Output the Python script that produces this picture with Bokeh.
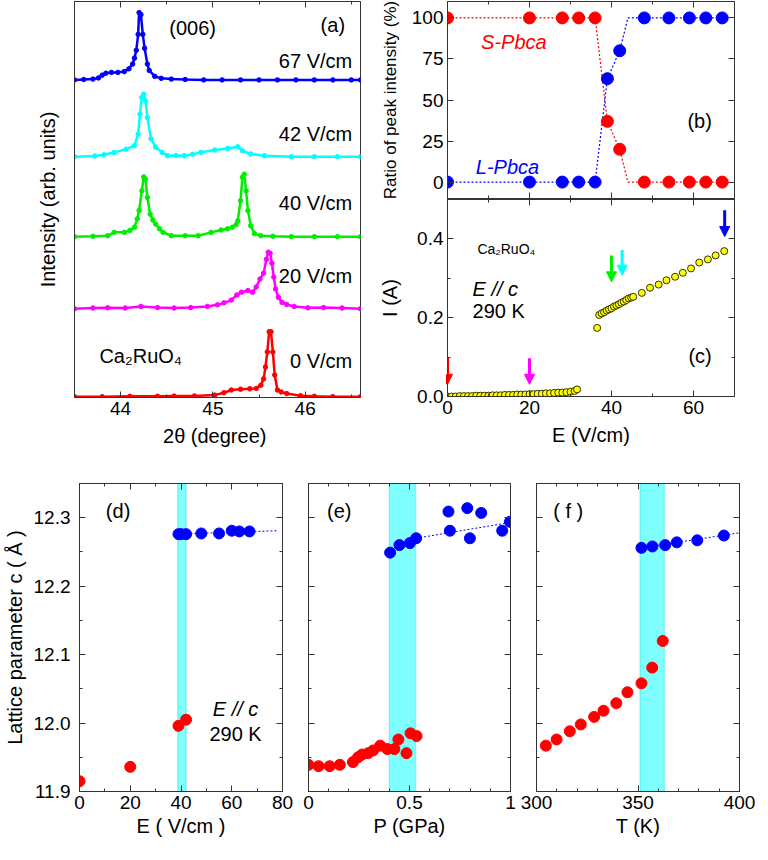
import numpy as np
from bokeh.plotting import figure
from bokeh.models import (Range1d, LinearAxis, FixedTicker, Label, BoxAnnotation, Arrow, NormalHead,
                          PrintfTickFormatter)
from bokeh.layouts import row, column
from bokeh.embed import file_html
from bokeh.resources import INLINE

# ---------------- data ----------------
# (a) (006) XRD profiles: 2theta (deg) and intensity above each baseline (arb. units)
fields_a = ["0 V/cm", "20 V/cm", "40 V/cm", "42 V/cm", "67 V/cm"]
offsets_a = [0.2, 22.4, 40.6, 60.8, 80.2]

tt_0 = [43.50, 43.80, 44.10, 44.40, 44.58, 44.80, 45.02, 45.12, 45.20, 45.30, 45.40, 45.47, 45.52, 45.55,
        45.57, 45.59, 45.61, 45.63, 45.65, 45.67, 45.70, 45.74, 45.80, 45.95, 46.10, 46.30, 46.60]
int_0 = [0.0, 0.0, 0.1, 0.1, 0.15, 0.2, 0.4, 1.0, 1.7, 1.9, 2.0, 2.1, 2.9, 4.5,
         7.5, 11.3, 16.4, 16.4, 11.3, 5.5, 1.7, 1.2, 0.8, 0.25, 0.1, 0.0, 0.0]

tt_20 = [43.50, 43.70, 43.86, 44.05, 44.22, 44.40, 44.58, 44.76, 44.94, 45.05, 45.12, 45.20, 45.26, 45.31,
         45.38, 45.43, 45.47, 45.51, 45.55, 45.58, 45.60, 45.62, 45.64, 45.66, 45.68, 45.71, 45.75, 45.80,
         45.88, 46.03, 46.20, 46.40, 46.60]
int_20 = [0.0, 0.2, 0.25, 0.2, 0.6, 0.3, 0.2, 0.3, 0.6, 1.0, 1.5, 2.2, 3.5, 4.2,
          4.6, 4.2, 5.5, 7.5, 9.0, 12.5, 14.3, 14.0, 11.5, 8.0, 5.0, 2.9, 1.6, 1.1,
          0.6, 0.25, 0.3, 0.2, 0.0]

tt_40 = [43.50, 43.70, 43.86, 43.93, 44.04, 44.10, 44.15, 44.18, 44.20, 44.23, 44.25, 44.27, 44.29, 44.32,
         44.35, 44.38, 44.42, 44.46, 44.55, 44.70, 44.84, 44.98, 45.09, 45.16, 45.21, 45.25, 45.27, 45.30,
         45.32, 45.34, 45.36, 45.38, 45.41, 45.45, 45.52, 45.65, 45.85, 46.10, 46.35, 46.60]
int_40 = [0.0, 0.1, 0.25, 1.1, 1.1, 1.6, 2.4, 4.5, 6.6, 11.6, 15.1, 14.5, 9.9, 5.7,
          4.2, 3.2, 2.0, 1.1, 0.25, 0.25, 0.25, 1.1, 1.7, 2.0, 2.4, 3.0, 4.0, 9.1,
          15.0, 15.8, 11.6, 6.6, 2.8, 0.8, 0.25, 0.1, 0.0, 0.0, 0.0, 0.0]

tt_42 = [43.50, 43.72, 43.82, 43.93, 44.06, 44.15, 44.19, 44.21, 44.23, 44.25, 44.27, 44.29, 44.33, 44.38,
         44.45, 44.51, 44.60, 44.69, 44.78, 44.87, 45.02, 45.16, 45.27, 45.32, 45.41, 45.56, 45.85, 46.10,
         46.35, 46.60]
int_42 = [0.0, 0.2, 0.5, 1.1, 1.9, 2.8, 5.7, 10.8, 15.0, 15.8, 14.1, 9.9, 4.5, 2.4,
          1.1, 0.25, 0.3, 0.25, 0.6, 1.1, 1.7, 2.1, 2.5, 1.5, 0.7, 0.25, 0.0, 0.0,
          0.0, 0.0]

tt_67 = [43.50, 43.60, 43.70, 43.76, 43.80, 43.84, 43.90, 43.97, 44.04, 44.09, 44.13, 44.15, 44.17, 44.19,
         44.20, 44.22, 44.24, 44.26, 44.29, 44.31, 44.37, 44.44, 44.55, 44.70, 44.90, 45.10, 45.30, 45.50,
         45.70, 45.90, 46.10, 46.30, 46.50, 46.60]
int_67 = [0.0, 0.1, 0.2, 0.5, 1.2, 1.7, 1.9, 1.9, 2.1, 2.8, 4.0, 5.5, 7.5, 11.5,
          17.0, 16.5, 11.5, 8.0, 4.0, 2.4, 0.9, 0.4, 0.2, 0.1, 0.0, 0.0, 0.0, 0.0,
          0.0, 0.0, 0.0, 0.0, 0.0, 0.0]

# (b) ratio of peak intensity (%)
E_b = [0, 20, 28, 32, 36, 39, 42, 48, 54, 59, 63, 67]
S_b = [100, 100, 100, 100, 100, 37, 20, 0, 0, 0, 0, 0]
L_b = [0, 0, 0, 0, 0, 63, 80, 100, 100, 100, 100, 100]
E_b_line = [0, 20, 28, 32, 36, 39, 42, 44, 48, 54, 59, 63, 67]
S_b_line = [100, 100, 100, 100, 100, 37, 20, 0, 0, 0, 0, 0, 0]
L_b_line = [0, 0, 0, 0, 0, 63, 80, 100, 100, 100, 100, 100, 100]

# (c) I-E curve
E_c = [0, 1, 2, 3, 4, 5, 6, 7, 8, 9, 10, 11, 12, 13, 14, 15, 16, 17, 18, 19, 20, 21, 22, 23, 24, 25,
       26, 27, 28, 29, 30, 31, 31.6,
       36.5, 37.0, 37.6, 38.2, 38.8, 39.4, 40.0, 40.6, 41.2, 41.8, 42.4, 43.0, 43.6, 44.2, 44.8, 45.3,
       47.4, 49.4, 51.5, 53.4, 55.5, 57.4, 59.4, 61.4, 63.5, 65.4, 67.5]
I_c = [0.000, 0.000, 0.000, 0.001, 0.001, 0.001, 0.001, 0.002, 0.002, 0.002, 0.002, 0.003, 0.003,
       0.003, 0.004, 0.004, 0.004, 0.005, 0.005, 0.005, 0.006, 0.006, 0.007, 0.007, 0.008, 0.008,
       0.009, 0.010, 0.010, 0.011, 0.012, 0.014, 0.018,
       0.174, 0.207, 0.211, 0.214, 0.218, 0.221, 0.224, 0.228, 0.231, 0.234, 0.238, 0.241, 0.245,
       0.249, 0.251, 0.253,
       0.263, 0.276, 0.284, 0.295, 0.304, 0.314, 0.325, 0.340, 0.348, 0.358, 0.369]
arrow_E = [0, 20, 40, 42.6, 67.6]
arrow_top = [0.098, 0.097, 0.358, 0.372, 0.473]
arrow_tip = [0.031, 0.031, 0.291, 0.308, 0.406]

# (d) lattice parameter c vs E
E_d_S = [0, 20, 39, 42]
c_d_S = [11.915, 11.936, 11.996, 12.005]
E_d_L = [39, 40, 42, 48, 55, 60, 63, 67]
c_d_L = [12.276, 12.276, 12.276, 12.277, 12.277, 12.281, 12.280, 12.280]
E_d_fit = [39, 78]
c_d_fit = [12.276, 12.281]
band_d = [38.7, 42.0]

# (e) lattice parameter c vs P
P_e_S = [0.0, 0.05, 0.105, 0.155, 0.22, 0.245, 0.265, 0.295, 0.32, 0.355, 0.39, 0.425, 0.445, 0.485, 0.505, 0.535]
c_e_S = [11.939, 11.937, 11.937, 11.939, 11.943, 11.950, 11.954, 11.956, 11.960, 11.967, 11.962, 11.962,
         11.976, 11.956, 11.985, 11.981]
P_e_L = [0.404, 0.450, 0.502, 0.533, 0.693, 0.700, 0.786, 0.799, 0.855, 0.959, 0.997]
c_e_L = [12.249, 12.260, 12.263, 12.270, 12.309, 12.281, 12.314, 12.270, 12.307, 12.281, 12.294]
P_e_fit = [0.533, 0.997]
c_e_fit = [12.270, 12.293]
band_e = [0.40, 0.53]

# (f) lattice parameter c vs T
T_f_S = [304.6, 309.9, 316.4, 321.8, 328.4, 333.0, 339.3, 344.8, 351.7, 357.0, 362.2]
c_f_S = [11.967, 11.976, 11.988, 11.998, 12.009, 12.018, 12.029, 12.045, 12.058, 12.081, 12.120]
T_f_L = [351.7, 357.1, 363.4, 369.1, 379.2, 392.3]
c_f_L = [12.256, 12.258, 12.260, 12.264, 12.267, 12.274]
T_f_fit = [351.7, 400]
c_f_fit = [12.256, 12.278]
band_f = [351, 363]

# ticks
a_xticks, a_xminor = [44, 45, 46], [43.5, 44.5, 45.5, 46.5]
bc_xticks, bc_xminor = [0, 20, 40, 60], [10, 30, 50, 70]
b_yticks = [0, 25, 50, 75, 100]
c_yticks, c_yminor = [0.0, 0.2, 0.4], [0.1, 0.3]
lat_yticks, lat_yminor = [11.9, 12.0, 12.1, 12.2, 12.3], [11.95, 12.05, 12.15, 12.25]
d_xticks, d_xminor = [0, 20, 40, 60, 80], [10, 30, 50, 70]
e_xticks, e_xminor = [0, 0.5, 1], [0.1, 0.2, 0.3, 0.4, 0.6, 0.7, 0.8, 0.9]
f_xticks, f_xminor = [300, 350, 400], [310, 320, 330, 340, 360, 370, 380, 390]

# ---------------- style ----------------
FONT = "Liberation Sans"
AX = "#333333"
RED, BLUE, MAG, GRN, CYN = "#ff0000", "#0000ff", "#ff00ff", "#00ee00", "#00ffff"
colors_a = [RED, MAG, GRN, CYN, BLUE]


def make_fig(fw, fh, xr, yr, bl, br, bt, bb):
    p = figure(frame_width=fw, frame_height=fh, x_range=Range1d(*xr), y_range=Range1d(*yr),
               output_backend="svg", toolbar_location=None,
               min_border_left=bl, min_border_right=br, min_border_top=bt, min_border_bottom=bb)
    p.grid.visible = False
    p.outline_line_color = AX
    p.outline_line_width = 1
    p.background_fill_color = "white"
    p.border_fill_color = "white"
    return p


def style_axis(ax, ticks, minor, show_labels, standoff=4, label="", label_std=5, label_size="20px",
               fmt=None):
    ax.ticker = FixedTicker(ticks=ticks, minor_ticks=minor)
    ax.major_tick_in = 6
    ax.major_tick_out = 0
    ax.minor_tick_in = 3
    ax.minor_tick_out = 0
    ax.axis_line_color = AX
    ax.major_tick_line_color = AX
    ax.minor_tick_line_color = AX
    ax.major_label_text_font = FONT
    if fmt:
        ax.formatter = PrintfTickFormatter(format=fmt)
    if show_labels:
        ax.major_label_text_color = "black"
        ax.major_label_text_font_size = "19px"
        ax.major_label_standoff = standoff
    else:
        ax.major_label_text_color = None
        ax.major_label_text_font_size = "0px"
        ax.major_label_standoff = 0
    if label:
        ax.axis_label = label
        ax.axis_label_text_font = FONT
        ax.axis_label_text_font_style = "normal"
        ax.axis_label_text_font_size = label_size
        ax.axis_label_text_color = "black"
        ax.axis_label_standoff = label_std


def mirror(p, loc, ticks, minor):
    ax = LinearAxis()
    style_axis(ax, ticks, minor, False)
    p.add_layout(ax, loc)


def add_label(p, x, y, text, size="20px", align="left", color="black", style="normal"):
    p.add_layout(Label(x=x, y=y, text=text, text_font=FONT, text_font_size=size, text_align=align,
                       text_baseline="middle", text_color=color, text_font_style=style))


# ---------------- (a) ----------------
pa = make_fig(286, 396, (43.5, 46.6), (0, 100), 74, 16, 1, 58)
style_axis(pa.below[0], a_xticks, a_xminor, True, standoff=4, label="2θ  (degree)", label_std=7)
style_axis(pa.left[0], [], [], False, label="Intensity (arb. units)", label_std=16)
mirror(pa, "above", a_xticks, a_xminor)
curves = [(tt_0, int_0), (tt_20, int_20), (tt_40, int_40), (tt_42, int_42), (tt_67, int_67)]
for (tt, inten), off, col in zip(curves, offsets_a, colors_a):
    y = np.array(inten) + off
    pa.line(tt, y, line_color=col, line_width=2.5)
    pa.scatter(tt, y, size=4.5, fill_color=col, line_color=col)
add_label(pa, 44.78, 93.4, "(006)", align="center")
add_label(pa, 46.30, 94.0, "(a)", align="center")
for txt, yy in zip(fields_a, [9.1, 30.7, 49.1, 66.5, 85.1]):
    add_label(pa, 46.51, yy, txt, align="right")
add_label(pa, 43.77, 10.6, "Ca₂RuO₄")

# ---------------- (b) ----------------
pb = make_fig(287, 197, (0, 70), (-10, 110), 71, 10, 1, 1)
style_axis(pb.below[0], bc_xticks, bc_xminor, False)
style_axis(pb.left[0], b_yticks, [], True, standoff=4, label="Ratio of peak intensity (%)",
           label_std=9, label_size="17px")
mirror(pb, "above", bc_xticks, bc_xminor)
mirror(pb, "right", b_yticks, [])
pb.line(E_b_line, S_b_line, line_color=RED, line_width=1.2, line_dash="2 2")
pb.line(E_b_line, L_b_line, line_color=BLUE, line_width=1.2, line_dash="2 2")
pb.scatter(E_b, S_b, size=12, fill_color=RED, line_color=RED)
pb.scatter(E_b, L_b, size=12, fill_color=BLUE, line_color=BLUE)
add_label(pb, 8.2, 85.5, "S-Pbca", color=RED, style="italic")
add_label(pb, 6.9, 9.0, "L-Pbca", color=BLUE, style="italic")
add_label(pb, 61.5, 37.3, "(b)", align="center")

# ---------------- (c) ----------------
pc = make_fig(287, 197, (0, 70), (0, 0.5), 71, 10, 0, 58)
style_axis(pc.below[0], bc_xticks, bc_xminor, True, standoff=4, label="E (V/cm)", label_std=7)
style_axis(pc.left[0], c_yticks, c_yminor, True, standoff=4, label="I (A)", label_std=13, fmt="%.1f")
mirror(pc, "above", bc_xticks, bc_xminor)
mirror(pc, "right", c_yticks, c_yminor)
pc.scatter(E_c, I_c, size=7, fill_color="#ffff00", line_color="#333300", line_width=1)
for xe, yt, yb, col in zip(arrow_E, arrow_top, arrow_tip, colors_a):
    pc.add_layout(Arrow(end=NormalHead(size=10, fill_color=col, line_color=col, line_width=1),
                        x_start=xe, y_start=yt, x_end=xe, y_end=yb, line_color=col, line_width=3))
add_label(pc, 7.3, 0.375, "Ca₂RuO₄", size="14px")
add_label(pc, 6.1, 0.272, "E // c", style="italic")
add_label(pc, 6.1, 0.216, "290 K")
add_label(pc, 61.6, 0.102, "(c)", align="center")

# ---------------- (d), (e), (f) ----------------
LAT_R = (11.9, 12.35)


def lattice_fig(fw, xr, bl, br, xticks, xminor, xlabel, first):
    p = make_fig(fw, 308, xr, LAT_R, bl, br, 28, 52)
    style_axis(p.below[0], xticks, xminor, True, standoff=4, label=xlabel, label_std=3)
    if first:
        style_axis(p.left[0], lat_yticks, lat_yminor, True, standoff=9,
                   label="Lattice parameter c ( Å )", label_std=5, fmt="%.1f")
    else:
        style_axis(p.left[0], lat_yticks, lat_yminor, False)
    mirror(p, "above", xticks, xminor)
    mirror(p, "right", lat_yticks, lat_yminor)
    return p


def band(p, lim):
    p.add_layout(BoxAnnotation(left=lim[0], right=lim[1], fill_color="#80ffff", fill_alpha=1.0,
                               line_color="#00d8d8", line_width=1.5, level="underlay"))


pd_ = lattice_fig(203, (0, 80), 74, 13, d_xticks, d_xminor, "E ( V/cm )", True)
band(pd_, band_d)
pd_.line(E_d_fit, c_d_fit, line_color=BLUE, line_width=1, line_dash="2 2")
pd_.scatter(E_d_S, c_d_S, size=11, fill_color=RED, line_color=RED)
pd_.scatter(E_d_L, c_d_L, size=11, fill_color=BLUE, line_color=BLUE)
add_label(pd_, 15.2, 12.310, "(d)", align="center")
add_label(pd_, 61.5, 12.020, "E // c", align="center", style="italic")
add_label(pd_, 61.5, 11.984, "290 K", align="center")

pe = lattice_fig(202, (0, 1), 13, 10, e_xticks, e_xminor, "P (GPa)", False)
pe.below[0].major_label_overrides = {0: "0", 0.5: "0.5", 1: "1"}
band(pe, band_e)
pe.line(P_e_fit, c_e_fit, line_color=BLUE, line_width=1, line_dash="2 2")
pe.scatter(P_e_S, c_e_S, size=11, fill_color=RED, line_color=RED)
pe.scatter(P_e_L, c_e_L, size=11, fill_color=BLUE, line_color=BLUE)
add_label(pe, 0.152, 12.310, "(e)", align="center")

pf = lattice_fig(203, (300, 400), 16, 17, f_xticks, f_xminor, "T (K)", False)
band(pf, band_f)
pf.line(T_f_fit, c_f_fit, line_color=BLUE, line_width=1, line_dash="2 2")
pf.scatter(T_f_S, c_f_S, size=11, fill_color=RED, line_color=RED)
pf.scatter(T_f_L, c_f_L, size=11, fill_color=BLUE, line_color=BLUE)
add_label(pf, 315.6, 12.310, "( f )", align="center")

layout = column(row(pa, column(pb, pc)), row(pd_, pe, pf))
open("out.html", "w").write(file_html(layout, INLINE))
